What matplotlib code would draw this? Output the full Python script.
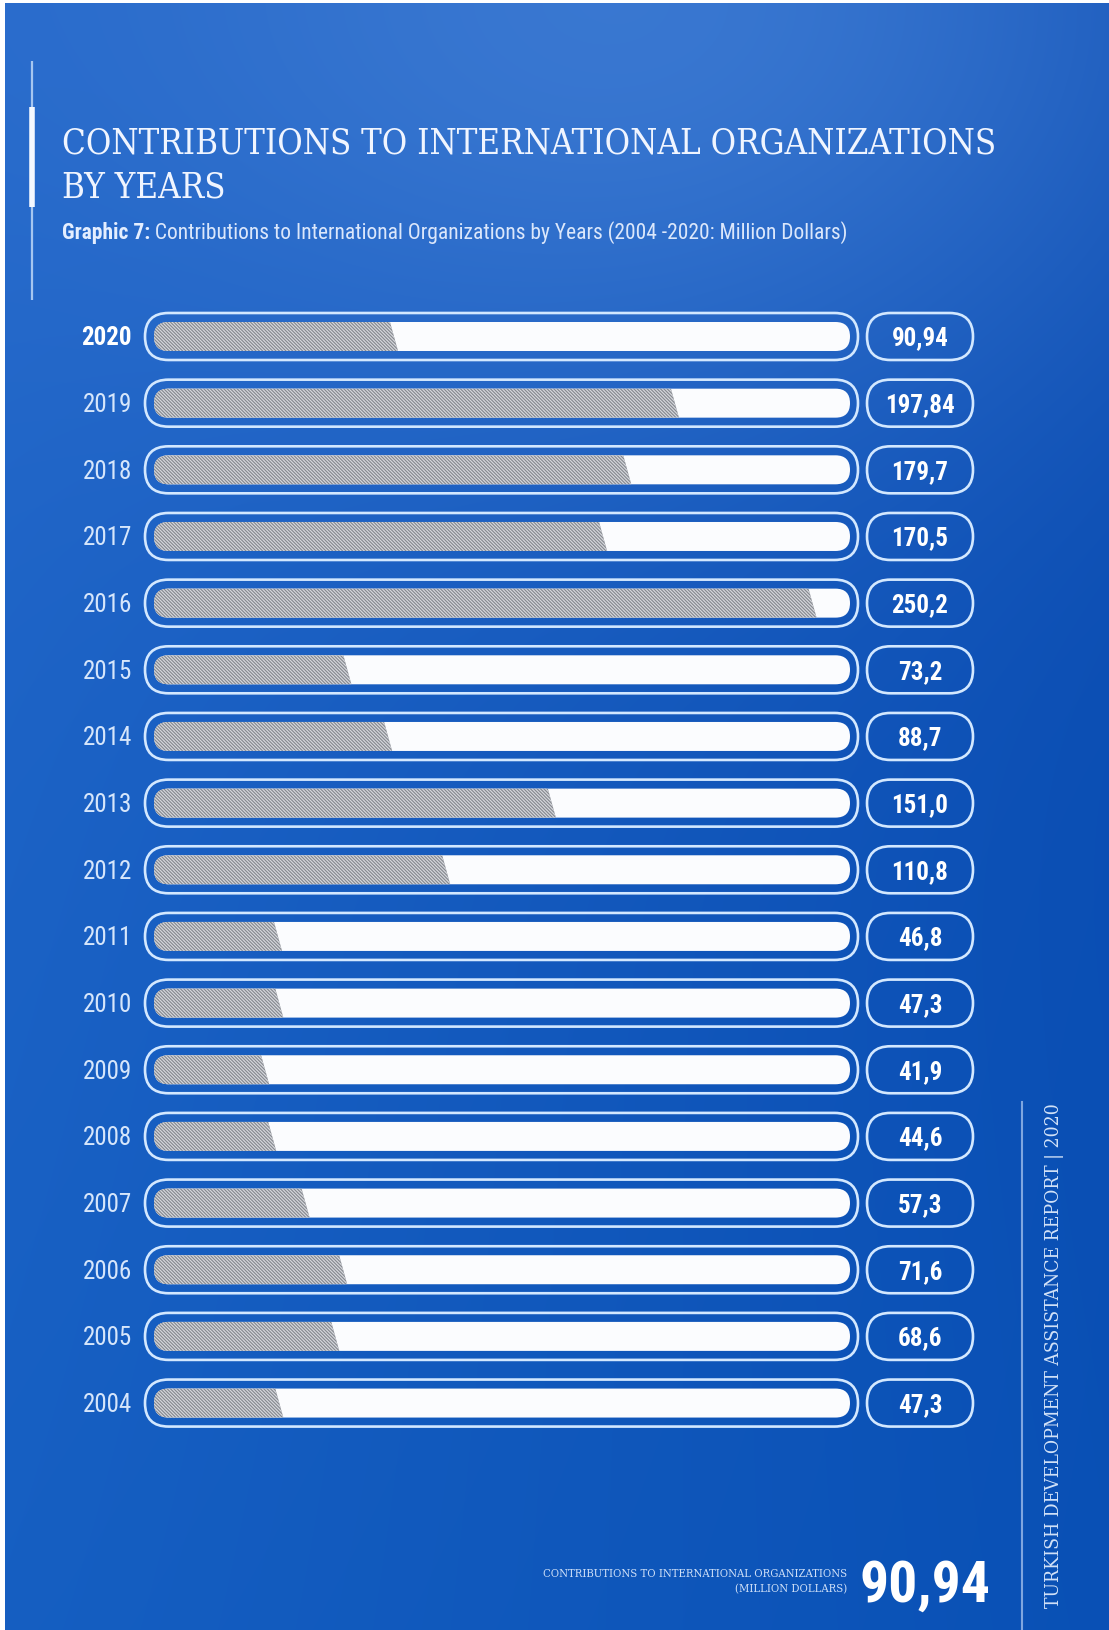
import os
import numpy as np
import matplotlib
matplotlib.use('Agg')
import matplotlib.pyplot as plt
from matplotlib import font_manager as fm
from matplotlib.patches import FancyBboxPatch, Polygon

# Contributions to international organizations, million dollars (2020 -> 2004)
years = ['2020', '2019', '2018', '2017', '2016', '2015', '2014', '2013', '2012',
         '2011', '2010', '2009', '2008', '2007', '2006', '2005', '2004']
values = [90.94, 197.84, 179.7, 170.5, 250.2, 73.2, 88.7, 151.0, 110.8,
          46.8, 47.3, 41.9, 44.6, 57.3, 71.6, 68.6, 47.3]
value_labels = ['90,94', '197,84', '179,7', '170,5', '250,2', '73,2', '88,7', '151,0', '110,8',
                '46,8', '47,3', '41,9', '44,6', '57,3', '71,6', '68,6', '47,3']
highlight_year = '2020'
headline_value = '90,94'

W, H = 1109, 1630
plt.rcParams['hatch.linewidth'] = 0.9


def font_from(files, **fallback):
    have = {os.path.basename(f.fname): f.fname for f in fm.fontManager.ttflist}
    for name in files:
        if name in have:
            return fm.FontProperties(fname=have[name])
    return fm.FontProperties(**fallback)


def sized(fp, size):
    f = fp.copy()
    f.set_size(size)
    return f


serif_fp = font_from(['DejaVuSerifCondensed.ttf', 'LiberationSerif-Regular.ttf'], family='DejaVu Serif')
narrow_fp = font_from(['RobotoCondensed-Regular.ttf', 'LiberationSansNarrow-Regular.ttf',
                       'DejaVuSansCondensed.ttf'], family='DejaVu Sans')
narrow_bold_fp = font_from(['RobotoCondensed-Bold.ttf', 'LiberationSansNarrow-Bold.ttf',
                            'DejaVuSansCondensed-Bold.ttf'], family='DejaVu Sans', weight='bold')

fig = plt.figure(figsize=(W / 100, H / 100), dpi=100)
fig.patch.set_facecolor('white')

# background: blue gradient, lighter near the top centre
bg = fig.add_axes([0, 0, 1, 1])
yy, xx = np.mgrid[0:H, 0:W].astype(float)
c_left = np.array([0x22, 0x66, 0xc9]) / 255
c_right = np.array([0x0c, 0x4c, 0xb2]) / 255
c_bottom = np.array([0x06, 0x56, 0xb9]) / 255
c_glow = np.array([0x45, 0x82, 0xd8]) / 255
t = (xx / W)[..., None]
img = c_left * (1 - t) + c_right * t
v = (yy / H)[..., None] * 0.45
img = img * (1 - v) + c_bottom * v
g = np.exp(-((xx - 640) ** 2 / (2 * 420 ** 2) + yy ** 2 / (2 * 300 ** 2)))[..., None] * 0.75
img = img * (1 - g) + c_glow * g
img[:, :5] = 1.0
img[:3, :] = 1.0
bg.imshow(img, extent=(0, W, H, 0), aspect='auto', interpolation='bilinear')
bg.set_xlim(0, W)
bg.set_ylim(H, 0)
bg.axis('off')

# bar axes: x in million dollars, y in rows
PX0, KX = 155.0, 2.628      # pixel of zero, pixels per million dollars
ROW0, ROWH = 336.5, 66.66   # pixel of first row, pixels between rows
ax = fig.add_axes([0, 0, 1, 1])
ax.patch.set_alpha(0)
ax.set_xlim(-PX0 / KX, (W - PX0) / KX)
ax.set_ylim((H - ROW0) / ROWH, -ROW0 / ROWH)
ax.axis('off')
m_aspect = KX / ROWH


def capsule(px_left, px_right, yc, h_px, **kw):
    x0 = (px_left - PX0) / KX
    w = (px_right - px_left) / KX
    h = h_px / ROWH
    p = FancyBboxPatch((x0, yc - h / 2), w, h,
                       boxstyle=f'round,pad=0,rounding_size={h_px / 2 / KX}',
                       mutation_aspect=m_aspect, **kw)
    ax.add_patch(p)
    return p


outline = '#d3e8ff'
slant = 4 / KX
half_h = 14.5 / ROWH
left = (150 - PX0) / KX
for i, (yr, val, lab) in enumerate(zip(years, values, value_labels)):
    capsule(145, 858, i, 47, facecolor='none', edgecolor=outline, lw=1.9)
    track = capsule(154, 850, i, 29, facecolor='#fbfcfe', edgecolor='none')
    fill = Polygon([(left, i - half_h), (val - slant, i - half_h),
                    (val + slant, i + half_h), (left, i + half_h)],
                   closed=True, facecolor='#83868d', edgecolor='#d4d6db',
                   lw=0, hatch='\\' * 10)
    ax.add_patch(fill)
    fill.set_clip_path(track)
    capsule(867, 973, i, 47, facecolor='none', edgecolor=outline, lw=1.9)

    bold = yr == highlight_year
    ax.text((132 - PX0) / KX, i + 9 / ROWH, yr, ha='right', va='baseline',
            color='white' if bold else '#d6e6fb',
            fontproperties=sized(narrow_bold_fp if bold else narrow_fp, 18))
    ax.text((920 - PX0) / KX, i + 9 / ROWH, lab, ha='center', va='baseline',
            color='white', fontproperties=sized(narrow_bold_fp, 18))

# overlay for headings and side texts, in pixels
ov = fig.add_axes([0, 0, 1, 1])
ov.patch.set_alpha(0)
ov.set_xlim(0, W)
ov.set_ylim(H, 0)
ov.axis('off')

renderer = fig.canvas.get_renderer()


def fit_width(txt, target, horizontal=True):
    bb = txt.get_window_extent(renderer)
    size = bb.width if horizontal else bb.height
    txt.set_fontsize(txt.get_fontsize() * target / size)


ov.plot([32, 32], [61, 300], color='#a6c6f0', lw=1.6, solid_capstyle='butt')
ov.plot([32, 32], [107, 207], color='#f4f8ff', lw=4, solid_capstyle='butt')

t1 = ov.text(62, 154, 'CONTRIBUTIONS TO INTERNATIONAL ORGANIZATIONS', ha='left', va='baseline',
             color='#f0f5ff', fontproperties=sized(serif_fp, 34))
fit_width(t1, 936)
ov.text(62, 197, 'BY YEARS', ha='left', va='baseline', color='#f0f5ff',
        fontproperties=sized(serif_fp, t1.get_fontsize()))

s1 = ov.text(62, 239, 'Graphic 7:', ha='left', va='baseline', color='#e4eeff',
             fontproperties=sized(narrow_bold_fp, 14))
s2 = ov.text(0, 239, ' Contributions to International Organizations by Years (2004 -2020: Million Dollars)',
             ha='left', va='baseline', color='#dbe7fb', fontproperties=sized(narrow_fp, 14))
w1 = s1.get_window_extent(renderer).width
w2 = s2.get_window_extent(renderer).width
k = (855 - 62) / (w1 + w2)
s1.set_fontsize(14 * k)
s2.set_fontsize(14 * k)
s2.set_x(62 + s1.get_window_extent(renderer).width)

b1 = ov.text(847, 1577, 'CONTRIBUTIONS TO INTERNATIONAL ORGANIZATIONS', ha='right', va='baseline',
             color='#cfe0f8', fontproperties=sized(serif_fp, 10))
fit_width(b1, 307)
ov.text(847, 1592, '(MILLION DOLLARS)', ha='right', va='baseline', color='#cfe0f8',
        fontproperties=sized(serif_fp, b1.get_fontsize()))
big = ov.text(859, 1602, headline_value, ha='left', va='baseline', color='white',
              fontproperties=sized(narrow_bold_fp, 40))
fit_width(big, 131)

ov.plot([1022, 1022], [1102, 1630], color='#7fa6e0', lw=1.5)
side = ov.text(1054, 1356, 'TURKISH DEVELOPMENT ASSISTANCE REPORT | 2020', rotation=90,
               ha='center', va='center', color='#d2e2f8', fontproperties=sized(serif_fp, 14))
fit_width(side, 507, horizontal=False)

fig.savefig('out.png', dpi=100, facecolor=fig.get_facecolor())
